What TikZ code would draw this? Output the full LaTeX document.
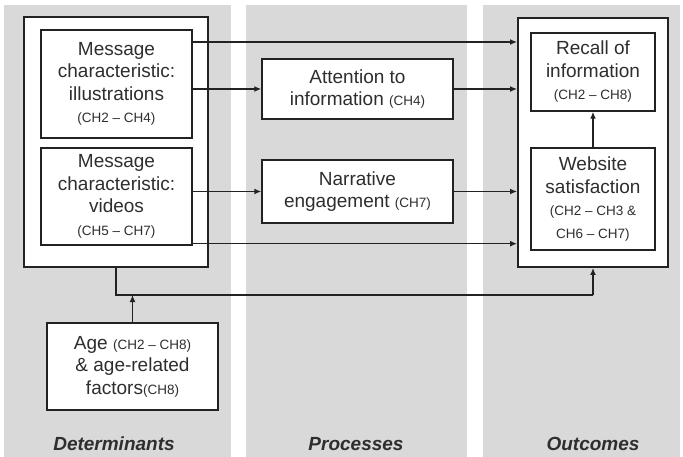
\documentclass[tikz,border=0pt]{standalone}
\usepackage{fontspec}
\setmainfont{Liberation Sans}
\usetikzlibrary{arrows.meta,calc}
\definecolor{bg}{HTML}{D9D9D9}
\definecolor{ink}{HTML}{222222}
\definecolor{txt}{HTML}{2E2E2E}
\newcommand\smtxt[1]{{\fontsize{13.5}{22}\selectfont #1}}
\begin{document}
\begin{tikzpicture}[x=1pt,y=-1pt,
  box/.style={draw=ink,fill=white,line width=1.4pt,align=center,inner sep=0pt,
    text=txt,font=\fontsize{19}{22.5}\selectfont},
  outer/.style={draw=ink,fill=white,line width=1.9pt,inner sep=0pt},
  conn/.style={draw=ink,line width=1.5pt},
  arr/.style={conn,-{Latex[length=7pt,width=6pt]}},
  lab/.style={text=txt,font=\fontsize{19}{22}\selectfont\bfseries\itshape}]
\useasboundingbox (0,0) rectangle (683,457);
% columns
\fill[bg] (4,5) rectangle (231,457);
\fill[bg] (246,5) rectangle (467,457);
\fill[bg] (483,5) rectangle (680,457);
% outer boxes
\node[outer,minimum width=184pt,minimum height=250pt] (det) at (116,142) {};
\node[outer,minimum width=150pt,minimum height=249pt] (outc) at (593,142.5) {};
% inner nodes
\node[box,minimum width=151pt,minimum height=108pt] (ill) at (116.5,84)
  {Message\\characteristic:\\illustrations\\\smtxt{(CH2 -- CH4)}};
\node[box,minimum width=151pt,minimum height=97pt] (vid) at (116.5,196.5)
  {Message\\characteristic:\\videos\\\smtxt{(CH5 -- CH7)}};
\node[box,minimum width=191pt,minimum height=60pt] (att) at (357.5,89)
  {Attention to\\information \smtxt{(CH4)}};
\node[box,minimum width=191pt,minimum height=63pt] (nar) at (357.5,191.5)
  {Narrative\\engagement \smtxt{(CH7)}};
\node[box,minimum width=124pt,minimum height=78pt] (rec) at (593,72)
  {Recall of\\information\\\smtxt{(CH2 -- CH8)}};
\node[box,minimum width=124pt,minimum height=102pt] (web) at (593,199)
  {Website\\satisfaction\\\smtxt{(CH2 -- CH3 \&}\\\smtxt{CH6 -- CH7)}};
\node[box,minimum width=171pt,minimum height=87pt] (age) at (132.5,366.5)
  {Age \smtxt{(CH2 -- CH8)}\\\& age-related\\factors\smtxt{(CH8)}};
% labels
\node[lab] (l1) at (114,444) {Determinants};
\node[lab] (l2) at (356,444) {Processes};
\node[lab] (l3) at (593,444) {Outcomes};
% connectors
\coordinate (t1) at ($(ill.east)+(0,-42)$);
\draw[arr] (t1) -- (t1 -| outc.west);
\draw[arr] (ill.east |- att.west) -- (att.west);
\draw[arr] (att.east) -- (att.east -| outc.west);
\draw[arr] (vid.east |- nar.west) -- (nar.west);
\draw[arr] (nar.east) -- (nar.east -| outc.west);
\coordinate (t2) at ($(vid.south east)+(0,-2)$);
\draw[arr] (t2) -- (t2 -| outc.west);
\draw[arr] (web.north) -- (rec.south);
\coordinate (bus) at (0,295);
\draw[conn] (det.south) -- (det.south |- bus) -- (outc.south |- bus);
\draw[arr] (outc.south |- bus) -- (outc.south);
\draw[arr] (age.north) -- (age.north |- bus);
\end{tikzpicture}
\end{document}
